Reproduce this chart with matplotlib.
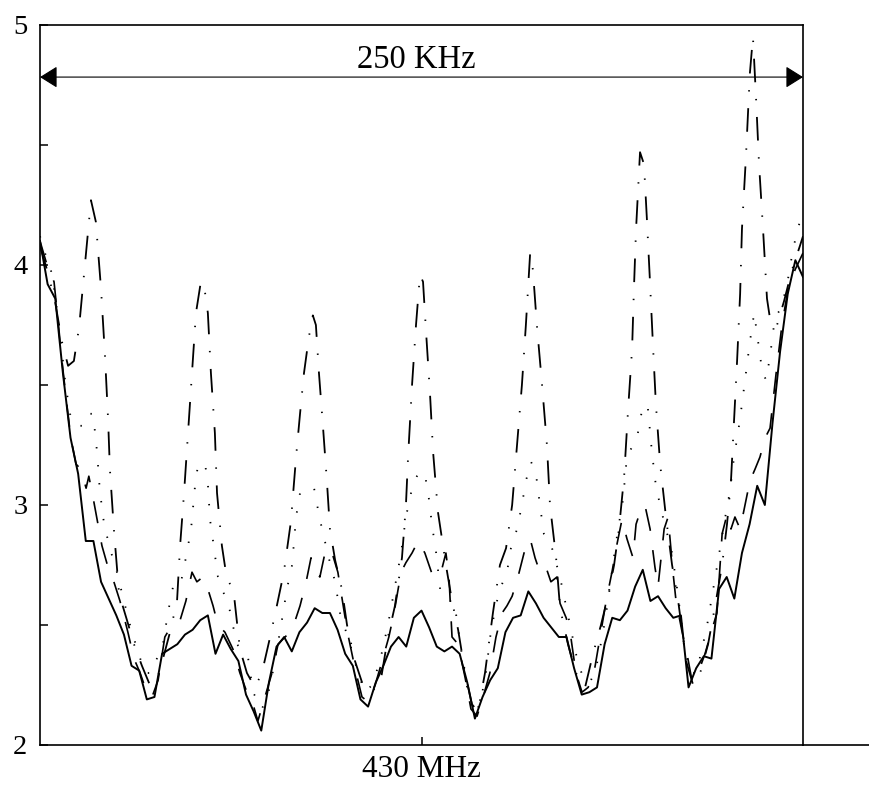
import numpy as np
import matplotlib
matplotlib.use('Agg')
import matplotlib.pyplot as plt
from matplotlib.lines import Line2D

plt.rcParams['font.family'] = ['Liberation Serif', 'DejaVu Serif']
plt.rcParams['lines.scale_dashes'] = False

# desplazamiento de frecuencia respecto a 430 MHz, en kHz
f_solido = np.linspace(-125, 125, 101)
v_solido = [4.10, 3.92, 3.86, 3.55, 3.28, 3.13, 2.85, 2.85, 2.68, 2.61,
            2.54, 2.46, 2.33, 2.31, 2.19, 2.20, 2.38, 2.40, 2.42, 2.46,
            2.48, 2.52, 2.54, 2.38, 2.46, 2.40, 2.35, 2.21, 2.14, 2.06,
            2.26, 2.41, 2.45, 2.39, 2.47, 2.51, 2.57, 2.55, 2.55, 2.48,
            2.38, 2.33, 2.19, 2.16, 2.26, 2.33, 2.41, 2.45, 2.41, 2.53,
            2.56, 2.49, 2.41, 2.39, 2.41, 2.38, 2.26, 2.11, 2.20, 2.27,
            2.32, 2.47, 2.53, 2.54, 2.64, 2.59, 2.53, 2.49, 2.45, 2.45,
            2.32, 2.21, 2.22, 2.24, 2.42, 2.53, 2.52, 2.56, 2.66, 2.73,
            2.60, 2.62, 2.57, 2.53, 2.54, 2.24, 2.32, 2.37, 2.36, 2.65,
            2.70, 2.61, 2.80, 2.92, 3.08, 3.00, 3.34, 3.64, 3.88, 4.02,
            3.95]

f_discontinua = [-125.0, -122.7, -120.4, -119.1, -117.8, -116.5, -114.9, -113.2, -111.6, -109.9,
                 -109.0, -107.6, -106.3, -104.7, -102.7, -100.8, -98.8, -96.2, -94.2, -92.2,
                 -90.0, -88.3, -86.3, -84.1, -81.8, -79.1, -77.2, -75.2, -73.6, -71.6,
                 -70.0, -68.3, -66.7, -64.4, -61.8, -59.5, -57.2, -55.2, -53.6, -51.3,
                 -49.0, -47.0, -44.7, -42.4, -39.8, -37.8, -36.2, -34.6, -33.3, -31.3,
                 -29.3, -27.4, -25.4, -24.1, -21.8, -19.5, -17.5, -15.2, -12.9, -10.7,
                 -9.0, -6.7, -5.1, -3.1, -1.1, 1.1, 3.8, 6.4, 8.0, 9.0,
                 10.0, 12.0, 14.3, 16.2, 18.2, 20.2, 22.4, 24.4, 26.4, 28.0,
                 29.7, 31.6, 33.6, 35.6, 37.2, 38.8, 40.8, 42.4, 44.4, 45.4,
                 47.4, 48.7, 50.6, 52.6, 54.6, 56.5, 58.5, 60.5, 62.4, 64.1,
                 65.7, 67.3, 69.3, 70.3, 71.6, 73.2, 74.9, 76.5, 77.5, 79.5,
                 80.8, 82.4, 83.4, 85.4, 87.0, 88.6, 90.6, 92.9, 94.9, 96.8,
                 98.5, 100.1, 101.4, 102.7, 104.4, 106.0, 107.6, 109.3, 110.9, 112.6,
                 114.2, 116.2, 118.1, 120.1, 122.4, 125.0]
v_discontinua = [4.10, 4.00, 3.93, 3.77, 3.60, 3.45, 3.28, 3.17, 3.15, 3.07,
                 3.12, 3.03, 2.94, 2.83, 2.74, 2.68, 2.60, 2.47, 2.36, 2.30,
                 2.22, 2.20, 2.27, 2.45, 2.50, 2.52, 2.60, 2.72, 2.68, 2.70,
                 2.65, 2.58, 2.50, 2.47, 2.40, 2.30, 2.22, 2.17, 2.10, 2.20,
                 2.30, 2.42, 2.45, 2.48, 2.58, 2.68, 2.78, 2.72, 2.70, 2.82,
                 2.80, 2.72, 2.56, 2.46, 2.32, 2.20, 2.18, 2.25, 2.35, 2.45,
                 2.55, 2.72, 2.76, 2.80, 2.85, 2.80, 2.70, 2.72, 2.80, 2.70,
                 2.45, 2.42, 2.28, 2.15, 2.12, 2.20, 2.30, 2.45, 2.55, 2.58,
                 2.62, 2.70, 2.80, 2.86, 2.78, 2.72, 2.74, 2.68, 2.70, 2.59,
                 2.53, 2.47, 2.30, 2.22, 2.24, 2.30, 2.45, 2.60, 2.72, 2.84,
                 2.94, 2.86, 2.78, 2.92, 2.97, 3.00, 2.90, 2.74, 2.66, 2.90,
                 2.95, 2.72, 2.60, 2.47, 2.38, 2.27, 2.30, 2.38, 2.47, 2.55,
                 2.88, 2.96, 2.90, 2.95, 2.90, 3.00, 3.10, 3.15, 3.20, 3.28,
                 3.32, 3.55, 3.75, 3.90, 3.98, 4.05]

f_punteada = [-125.0, -123.4, -121.7, -120.1, -118.5, -116.8, -115.2, -113.2, -110.9, -109.3,
              -107.6, -106.3, -105.4, -104.0, -102.1, -99.8, -97.5, -95.5, -93.2, -90.6,
              -88.6, -86.7, -84.7, -83.1, -81.4, -79.1, -77.2, -75.5, -74.2, -73.2,
              -70.9, -70.0, -69.3, -68.3, -66.7, -65.0, -62.8, -60.5, -56.9, -55.2,
              -52.3, -50.3, -48.3, -46.0, -44.1, -42.4, -41.1, -39.8, -37.5, -35.2,
              -33.9, -32.6, -31.3, -30.0, -28.3, -26.7, -23.4, -20.8, -18.5, -16.2,
              -13.6, -11.0, -8.7, -6.7, -5.1, -3.1, -1.5, -0.2, 1.1, 2.5,
              3.4, 4.8, 6.1, 8.4, 10.7, 13.3, 15.2, 17.2, 19.2, 21.1,
              22.8, 25.4, 28.0, 29.3, 31.3, 32.9, 34.2, 35.9, 37.5, 38.8,
              40.1, 42.1, 44.1, 45.7, 49.0, 50.6, 52.9, 55.2, 57.2, 59.5,
              61.1, 62.8, 64.4, 66.0, 67.3, 69.3, 70.9, 72.6, 74.2, 75.5,
              76.8, 78.5, 80.1, 82.1, 84.1, 86.0, 88.0, 90.0, 91.9, 93.6,
              95.2, 96.5, 98.1, 99.8, 101.1, 102.4, 103.7, 105.0, 106.3, 107.6,
              109.0, 110.3, 111.6, 112.9, 114.2, 115.8, 117.8, 119.8, 121.4, 123.0,
              125.0]
v_punteada = [4.12, 4.05, 4.00, 3.88, 3.72, 3.52, 3.38, 3.33, 3.33, 3.38,
              3.38, 3.22, 3.06, 2.92, 2.82, 2.72, 2.60, 2.50, 2.40, 2.30,
              2.30, 2.36, 2.42, 2.55, 2.66, 2.66, 2.78, 2.90, 3.08, 3.17,
              3.17, 3.09, 2.94, 2.85, 2.70, 2.64, 2.56, 2.42, 2.37, 2.22,
              2.15, 2.21, 2.33, 2.50, 2.65, 2.75, 2.95, 3.05, 3.05, 3.07,
              2.98, 2.90, 2.83, 2.76, 2.68, 2.55, 2.42, 2.30, 2.22, 2.25,
              2.35, 2.50, 2.66, 2.80, 2.95, 3.07, 3.12, 3.14, 3.13, 3.02,
              2.92, 2.80, 2.65, 2.60, 2.60, 2.37, 2.22, 2.13, 2.17, 2.30,
              2.48, 2.64, 2.72, 2.82, 2.90, 3.00, 3.10, 3.18, 3.13, 3.00,
              2.88, 2.85, 2.76, 2.68, 2.48, 2.38, 2.28, 2.26, 2.32, 2.47,
              2.60, 2.76, 2.90, 3.02, 3.20, 3.25, 3.30, 3.42, 3.40, 3.22,
              3.08, 2.98, 2.90, 2.80, 2.62, 2.42, 2.30, 2.30, 2.40, 2.50,
              2.62, 2.72, 2.84, 2.97, 3.06, 3.20, 3.30, 3.42, 3.55, 3.68,
              3.80, 3.68, 3.56, 3.52, 3.62, 3.78, 3.82, 3.92, 4.04, 4.14,
              4.22]

f_trazo_punto = [-125.0, -122.7, -120.1, -117.8, -115.8, -113.9, -112.2, -110.3, -108.3, -106.7,
                 -105.0, -103.7, -102.7, -102.1, -100.8, -99.1, -96.5, -94.2, -91.6, -89.0,
                 -86.7, -84.7, -82.4, -80.1, -79.1, -77.8, -76.5, -75.2, -73.9, -72.3,
                 -71.3, -70.0, -69.0, -67.7, -67.0, -65.4, -64.1, -61.4, -59.5, -57.2,
                 -54.6, -52.3, -49.6, -47.4, -45.1, -42.8, -41.1, -39.8, -38.5, -36.9,
                 -35.6, -34.6, -33.6, -32.3, -31.0, -30.0, -28.3, -26.1, -24.4, -21.8,
                 -19.2, -16.9, -13.6, -11.0, -8.7, -6.4, -5.1, -4.4, -3.1, -1.8,
                 -0.5, 0.5, 1.5, 2.8, 3.8, 5.4, 8.0, 10.0, 12.0, 14.3,
                 16.5, 18.5, 20.8, 23.4, 25.7, 27.7, 29.7, 31.3, 32.9, 34.2,
                 35.6, 36.5, 37.8, 39.5, 41.1, 42.1, 44.1, 45.4, 48.0, 50.6,
                 53.6, 56.2, 58.8, 61.1, 63.1, 64.7, 66.4, 67.7, 69.0, 69.6,
                 70.3, 71.6, 72.9, 73.9, 74.9, 75.9, 76.8, 78.2, 80.1, 82.1,
                 84.1, 86.7, 89.0, 91.3, 93.9, 96.2, 98.5, 100.1, 101.4, 102.4,
                 103.4, 104.4, 105.0, 106.3, 107.6, 108.6, 109.6, 110.6, 111.9, 113.2,
                 114.5, 116.5, 118.8, 121.4, 124.0, 125.0]
v_trazo_punto = [4.08, 3.98, 3.85, 3.68, 3.58, 3.60, 3.74, 4.00, 4.27, 4.18,
                 3.90, 3.62, 3.36, 3.15, 2.90, 2.63, 2.52, 2.42, 2.33, 2.25,
                 2.27, 2.36, 2.47, 2.60, 2.83, 3.05, 3.30, 3.55, 3.80, 3.93,
                 3.92, 3.80, 3.55, 3.30, 3.05, 2.83, 2.72, 2.62, 2.40, 2.30,
                 2.24, 2.30, 2.45, 2.58, 2.72, 2.93, 3.20, 3.38, 3.55, 3.70,
                 3.79, 3.75, 3.55, 3.33, 3.10, 2.90, 2.77, 2.65, 2.50, 2.35,
                 2.25, 2.22, 2.25, 2.45, 2.58, 2.78, 3.00, 3.20, 3.50, 3.75,
                 3.96, 3.93, 3.72, 3.46, 3.22, 2.97, 2.75, 2.60, 2.48, 2.30,
                 2.17, 2.14, 2.30, 2.55, 2.75, 2.82, 3.00, 3.25, 3.50, 3.75,
                 4.05, 3.98, 3.75, 3.50, 3.25, 3.00, 2.78, 2.57, 2.42, 2.30,
                 2.24, 2.38, 2.50, 2.62, 2.75, 2.90, 3.12, 3.40, 3.65, 3.90,
                 4.15, 4.47, 4.42, 4.18, 3.92, 3.65, 3.42, 3.17, 2.95, 2.75,
                 2.60, 2.35, 2.25, 2.30, 2.42, 2.58, 2.75, 2.92, 3.10, 3.35,
                 3.60, 3.88, 4.15, 4.45, 4.80, 4.95, 4.70, 4.42, 4.15, 3.86,
                 3.75, 3.75, 3.85, 3.98, 4.08, 4.12]

# ancho de banda marcado con la flecha
banda_khz = 250
y_flecha = 4.783

fig = plt.figure(figsize=(8.69, 7.90), dpi=100)
ax = fig.add_axes([40 / 869, 45 / 790, 763 / 869, 720 / 790])

ax.plot(f_solido, v_solido, color='black', lw=1.4, ls='-')
ax.plot(f_discontinua, v_discontinua, color='black', lw=1.2, ls=(0, (16, 14)))
ax.plot(f_punteada, v_punteada, color='black', lw=1.3, ls=(0, (1, 12)))
ax.plot(f_trazo_punto, v_trazo_punto, color='black', lw=1.3, ls=(0, (17, 12, 1, 12)))

ax.set_xlim(-125, 125)
ax.set_ylim(2, 5)
ax.set_yticks([2, 3, 4, 5])
ax.set_yticklabels(['2', '3', '4', '5'])
ax.set_yticks([2.5, 3.5, 4.5], minor=True)
ax.set_xticks([0])
ax.set_xticklabels(['430 MHz'])
ax.tick_params(axis='both', which='both', direction='in', length=6, width=1.1)
ax.tick_params(axis='y', labelsize=20.5, pad=9)
ax.tick_params(axis='x', labelsize=22.5, pad=7)
for s in ax.spines.values():
    s.set_linewidth(1.2)

# el eje inferior sigue hasta el borde derecho
fig.add_artist(Line2D([803 / 869, 1.0], [45 / 790, 45 / 790], color='black', lw=1.2))

ax.annotate('', xy=(-banda_khz / 2, y_flecha), xytext=(banda_khz / 2, y_flecha),
            arrowprops=dict(arrowstyle='<|-|>,head_length=0.4,head_width=0.25',
                            mutation_scale=27, color='black', lw=0.8,
                            shrinkA=0, shrinkB=0))
ax.text(-1.8, 4.854, f'{banda_khz} KHz', ha='center', va='center', fontsize=23.5)

fig.savefig('out.png', dpi=100)
